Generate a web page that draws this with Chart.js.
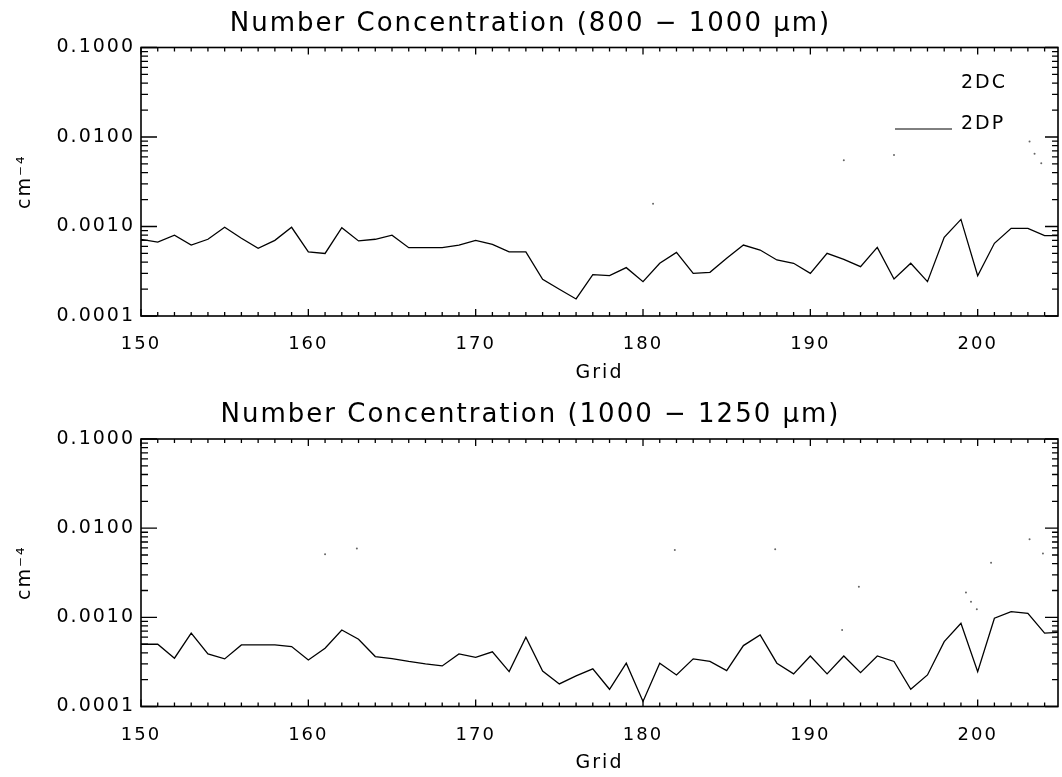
<!DOCTYPE html>
<html><head><meta charset="utf-8">
<script src="https://cdn.jsdelivr.net/npm/chart.js@4.4.1/dist/chart.umd.min.js"></script>
<style>
html,body{margin:0;padding:0;background:#fff;overflow:hidden;}
#w1{position:absolute;left:0;top:0;width:1062px;height:390px;}
#w2{position:absolute;left:0;top:390px;width:1062px;height:387px;}
</style></head><body>
<div id="w1"><canvas id="c1"></canvas></div>
<div id="w2"><canvas id="c2"></canvas></div>
<script>
// ---- data ----
const gridPts = [150,151,152,153,154,155,156,157,158,159,160,161,162,163,164,165,166,167,168,169,170,171,172,173,174,175,176,177,178,179,180,181,182,183,184,185,186,187,188,189,190,191,192,193,194,195,196,197,198,199,200,201,202,203,204,205];
const top2DP = [0.00072,0.00067,0.00080,0.00062,0.00072,0.00098,0.00074,0.00057,0.00070,0.00098,0.00052,0.00050,0.00097,0.00069,0.00072,0.00080,0.00058,0.00058,0.00058,0.00062,0.00070,0.00063,0.00052,0.00052,0.000257,0.000199,0.000155,0.00029,0.000282,0.000347,0.000242,0.000388,0.000514,0.000300,0.000308,0.000441,0.00062,0.000546,0.000423,0.000388,0.000300,0.000501,0.000430,0.000356,0.000585,0.000259,0.000388,0.000242,0.000757,0.00120,0.000282,0.000649,0.000955,0.000955,0.000791,0.00079];
const bottom2DP = [0.000499,0.000499,0.000348,0.000664,0.000389,0.000342,0.000491,0.000491,0.000491,0.00047,0.000333,0.00045,0.000722,0.000568,0.000363,0.000345,0.00032,0.00030,0.000285,0.000389,0.000356,0.000411,0.000246,0.000598,0.000250,0.000179,0.00022,0.000264,0.000156,0.000306,0.000114,0.000306,0.000226,0.000342,0.00032,0.000253,0.000482,0.000635,0.000306,0.000232,0.000369,0.000232,0.000369,0.000240,0.000369,0.00032,0.000156,0.000226,0.000534,0.000859,0.000246,0.000977,0.00116,0.00111,0.000664,0.00068];
// 2DC: only a few faint dots survive in the figure
const top2DCx = [180.6,192.0,195.0,203.1,203.4,203.8];
const top2DCy = [0.0018,0.0055,0.0063,0.0089,0.0065,0.0051];
const bottom2DCx = [161.0,162.9,181.9,187.9,191.9,192.9,199.3,199.6,199.95,200.8,203.1,203.9];
const bottom2DCy = [0.0051,0.0059,0.0057,0.0058,0.00072,0.0022,0.0019,0.0015,0.00123,0.0041,0.0075,0.0052];
const yTickVals = [0.0001,0.001,0.01,0.1];
const yTickLabels = ["0.0001","0.0010","0.0100","0.1000"];
const xTickVals = [150,160,170,180,190,200];
const titles = ["Number Concentration (800 \u2212 1000 \u03BCm)","Number Concentration (1000 \u2212 1250 \u03BCm)"];
const seriesNames = ["2DC","2DP"];

const FONT = "'DejaVu Sans', sans-serif";

const spacingPlugin = {
  id:'spacing',
  beforeDraw(chart){ chart.ctx.letterSpacing = '2px'; }
};

const idlAxes = {
  id:'idlAxes',
  afterDraw(chart){
    const {ctx, chartArea:a, scales:{x,y}} = chart;
    ctx.save();
    ctx.strokeStyle = '#000';
    ctx.lineWidth = 1.6;
    ctx.strokeRect(a.left, a.top, a.right - a.left, a.bottom - a.top);
    ctx.lineWidth = 1.3;
    ctx.beginPath();
    for (let e = -4; e <= -1; e++) {
      for (let m = 1; m <= 9; m++) {
        const v = m * Math.pow(10, e);
        if (v < y.min * 0.9999 || v > y.max * 1.0001) continue;
        const py = y.getPixelForValue(v);
        const lenL = m === 1 ? 16 : 7;
        const lenR = m === 1 ? 13 : 6;
        ctx.moveTo(a.left, py); ctx.lineTo(a.left + lenL, py);
        ctx.moveTo(a.right, py); ctx.lineTo(a.right - lenR, py);
      }
    }
    for (let g = 150; g <= x.max; g++) {
      const px = x.getPixelForValue(g);
      const len = g % 10 === 0 ? 7 : 4;
      ctx.moveTo(px, a.bottom); ctx.lineTo(px, a.bottom - len);
      ctx.moveTo(px, a.top); ctx.lineTo(px, a.top + len);
    }
    ctx.stroke();
    ctx.restore();
  }
};

const legendPlugin = {
  id:'idlLegend',
  afterDraw(chart, args, opts){
    if (!opts.show) return;
    const ctx = chart.ctx;
    const ds = chart.data.datasets;
    ctx.save();
    ctx.letterSpacing = '2px';
    ctx.font = "19px " + FONT;
    ctx.fillStyle = '#000';
    ctx.textAlign = 'left';
    ctx.textBaseline = 'middle';
    ctx.fillText(ds[1].label, 961, 83);
    ctx.fillText(ds[0].label, 961, 124);
    ctx.strokeStyle = '#000';
    ctx.lineWidth = 1;
    ctx.beginPath(); ctx.moveTo(895, 129); ctx.lineTo(952, 129); ctx.stroke();
    ctx.restore();
  }
};

function makeChart(canvasId, title, dpVals, dcX, dcY, showLegend, lay) {
  const dpData = gridPts.map((g, i) => ({x: g, y: dpVals[i]}));
  const dcData = dcX.map((g, i) => ({x: g, y: dcY[i]}));
  return new Chart(document.getElementById(canvasId), {
    type: 'line',
    data: {
      datasets: [
        {label: seriesNames[1], data: dpData, borderColor: '#000', borderWidth: 1.3, pointRadius: 0, tension: 0, fill: false},
        {label: seriesNames[0], data: dcData, showLine: false, pointRadius: 1, pointBackgroundColor: '#666', pointBorderWidth: 0, borderColor: '#666'}
      ]
    },
    options: {
      responsive: true,
      maintainAspectRatio: false,
      animation: false,
      devicePixelRatio: 1,
      layout: {padding: {left: 0, right: 1, top: 0, bottom: 0}},
      plugins: {
        legend: {display: false},
        tooltip: {enabled: false},
        title: {
          display: true, text: title, color: '#000',
          font: {family: FONT, size: 26, weight: 'normal', lineHeight: 1.2},
          padding: {top: lay.tTop, bottom: lay.tBot}
        },
        idlLegend: {show: showLegend}
      },
      scales: {
        x: {
          type: 'linear', min: 150, max: 204.8,
          afterBuildTicks: s => { s.ticks = xTickVals.map(v => ({value: v})); },
          afterFit: s => { s.height = lay.xH; },
          grid: {display: false, drawTicks: false},
          border: {display: false},
          ticks: {color: '#000', padding: 18, maxRotation: 0, font: {family: FONT, size: 18}, callback: v => String(v)},
          title: {display: true, text: 'Grid', color: '#000', font: {family: FONT, size: 19}, padding: {top: 0, bottom: lay.gPad}}
        },
        y: {
          type: 'logarithmic', min: 0.0001, max: 0.1,
          afterBuildTicks: s => { s.ticks = yTickVals.map(v => ({value: v})); },
          afterFit: s => { s.width = 141; },
          grid: {display: false, drawTicks: false},
          border: {display: false},
          ticks: {color: '#000', padding: 6, font: {family: FONT, size: 19},
            callback: v => { const i = yTickVals.findIndex(t => Math.abs(t - v) / t < 1e-6); return i >= 0 ? yTickLabels[i] : ''; }},
          title: {display: true, text: 'cm\u207B\u2074', color: '#000', font: {family: FONT, size: 19}, padding: {top: 14, bottom: 0}}
        }
      }
    },
    plugins: [spacingPlugin, idlAxes, legendPlugin]
  });
}

makeChart('c1', titles[0], top2DP, top2DCx, top2DCy, true, {tTop: 9, tBot: 7.3, xH: 74, gPad: 5.6});
makeChart('c2', titles[1], bottom2DP, bottom2DCx, bottom2DCy, false, {tTop: 9.4, tBot: 8.4, xH: 70.5, gPad: 2.6});
</script>
</body></html>
